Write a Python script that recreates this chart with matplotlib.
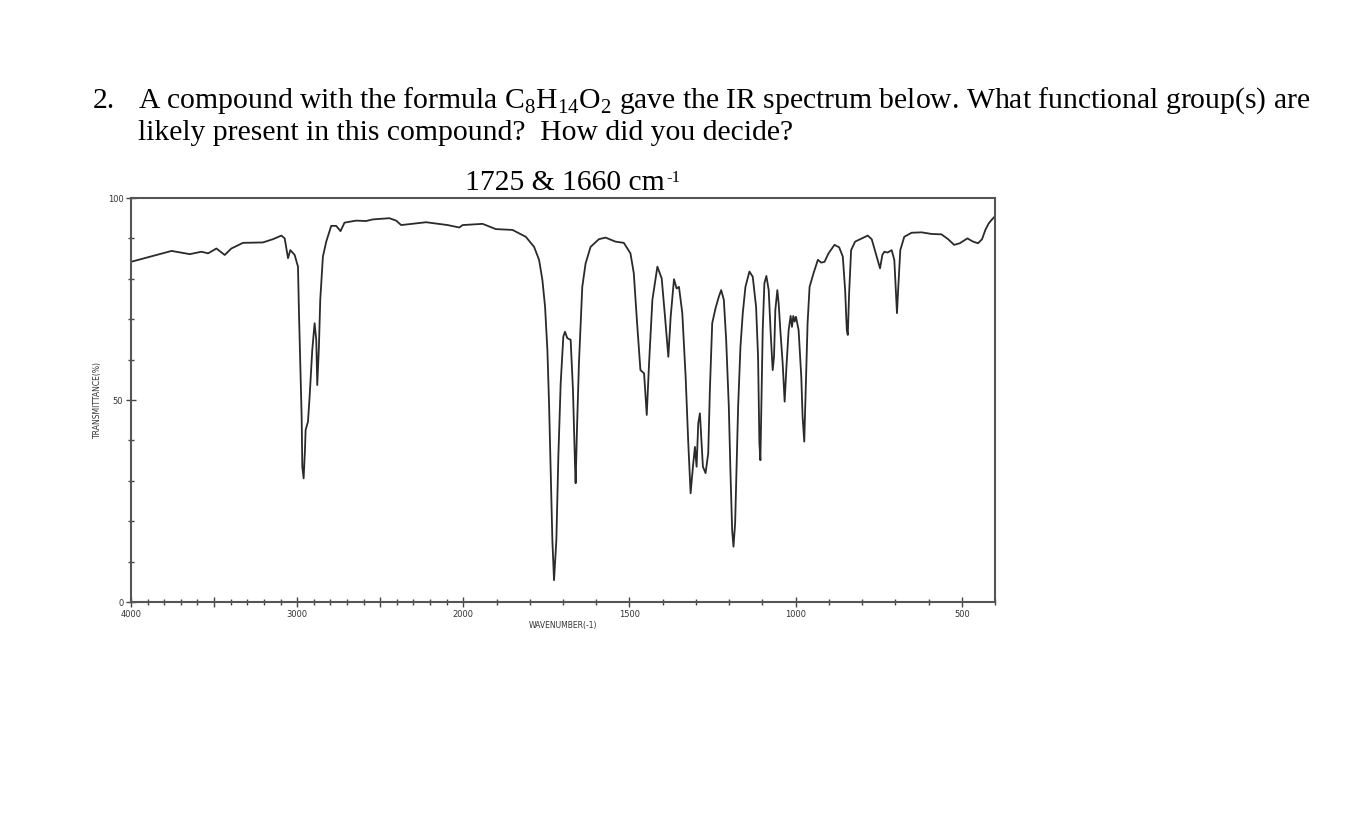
import numpy as np
import matplotlib
matplotlib.use('Agg')
from matplotlib import pyplot as plt
from matplotlib.ticker import FixedLocator, NullFormatter

#################### Data ####################

# Wavenumbers (cm-1)
wavenumber = [
    4000, 3846, 3756, 3646, 3576, 3536, 3486, 3436, 3396, 3326,
    3206, 3146, 3095, 3075, 3055, 3041, 3015, 2995, 2989, 2981,
    2973, 2969, 2961, 2953, 2949, 2935, 2925, 2909, 2895, 2885,
    2879, 2869, 2861, 2845, 2825, 2795, 2765, 2739, 2715, 2645,
    2585, 2545, 2445, 2404, 2374, 2224, 2094, 2024, 2004, 1942,
    1902, 1852, 1812, 1787, 1772, 1762, 1754, 1747, 1742, 1737,
    1732, 1727, 1720, 1714, 1707, 1699, 1694, 1687, 1677, 1670,
    1664, 1662, 1658, 1652, 1642, 1632, 1617, 1592, 1572, 1542,
    1517, 1497, 1487, 1477, 1467, 1456, 1448, 1441, 1431, 1416,
    1403, 1393, 1383, 1376, 1366, 1358, 1351, 1341, 1331, 1323,
    1316, 1309, 1303, 1298, 1293, 1288, 1283, 1279, 1271, 1263,
    1258, 1251, 1241, 1231, 1224, 1216, 1209, 1201, 1196, 1191,
    1187, 1182, 1178, 1173, 1166, 1159, 1151, 1139, 1129, 1119,
    1113, 1109, 1106, 1103, 1099, 1094, 1088, 1081, 1075, 1069,
    1065, 1061, 1055, 1051, 1046, 1039, 1033, 1027, 1021, 1015,
    1011, 1007, 1003, 999, 991, 983, 979, 974, 969, 964,
    958, 946, 933, 923, 913, 901, 883, 869, 858, 851,
    846, 843, 839, 833, 821, 801, 783, 771, 759, 746,
    739, 733, 723, 711, 703, 699, 695, 691, 685, 673,
    651, 621, 591, 561, 541, 523, 506, 483, 466, 451,
    439, 429, 419, 409, 400,
]

# Transmittance (%)
transmittance = [
    84.2, 85.9, 86.9, 86.1, 86.7, 86.3, 87.5, 85.9, 87.5, 88.9,
    89.0, 89.8, 90.7, 90.0, 85.1, 87.1, 85.9, 83.0, 71.5, 59.2,
    45.9, 33.5, 30.6, 37.6, 42.6, 44.6, 50.8, 62.4, 69.0, 64.9,
    53.7, 63.2, 74.8, 85.5, 89.2, 93.1, 93.1, 91.8, 93.9, 94.4,
    94.3, 94.7, 95.0, 94.4, 93.3, 94.0, 93.3, 92.7, 93.3, 93.6,
    92.3, 92.1, 90.4, 87.9, 84.7, 79.7, 73.1, 62.4, 49.2, 31.9,
    15.3, 5.4, 15.3, 36.0, 54.1, 65.7, 66.9, 65.3, 64.9, 52.5,
    34.3, 29.4, 42.6, 59.1, 78.0, 83.8, 87.9, 89.8, 90.2, 89.2,
    88.9, 86.3, 81.4, 69.0, 57.4, 56.6, 46.3, 59.1, 74.8, 83.0,
    80.1, 70.6, 60.7, 70.6, 79.9, 77.6, 78.0, 71.5, 55.8, 39.3,
    26.9, 33.5, 38.4, 33.5, 44.2, 46.7, 39.3, 33.5, 31.9, 36.8,
    52.5, 69.0, 72.7, 75.6, 77.2, 74.8, 64.9, 48.3, 31.9, 17.8,
    13.7, 19.5, 31.9, 48.3, 63.2, 71.5, 78.0, 81.8, 80.5, 73.1,
    60.7, 39.3, 35.1, 48.3, 67.3, 78.9, 80.7, 77.2, 66.5, 57.4,
    60.7, 72.3, 77.2, 73.9, 67.3, 59.1, 49.6, 59.1, 67.3, 70.8,
    68.1, 70.8, 69.4, 70.6, 67.3, 55.8, 45.9, 39.7, 54.1, 69.0,
    78.0, 81.4, 84.7, 84.0, 84.2, 86.3, 88.4, 87.8, 85.5, 77.2,
    67.3, 66.1, 76.4, 87.1, 89.2, 90.0, 90.7, 89.8, 86.3, 82.6,
    85.9, 86.7, 86.5, 87.1, 84.7, 78.0, 71.5, 78.0, 87.1, 90.4,
    91.4, 91.5, 91.1, 91.0, 89.8, 88.4, 88.8, 90.0, 89.2, 88.8,
    89.8, 92.1, 93.7, 94.7, 95.5,
]

x_major = [4000, 3500, 3000, 2500, 2000, 1500, 1000, 500]
x_labels = ['4000', '', '3000', '', '2000', '1500', '1000', '500']
y_major = [0, 50, 100]
y_labels = ['0', '50', '100']

question_1 = 'A compound with the formula C$_\\mathrm{8}$H$_\\mathrm{14}$O$_\\mathrm{2}$ gave the IR spectrum below. What functional group(s) are'
question_2 = 'likely present in this compound?  How did you decide?'
peak_note = '1725 & 1660 cm'
peak_unit = '-1'

#################### Styling ####################

plt.rcParams['font.family'] = ['Liberation Serif', 'DejaVu Serif']
plt.rcParams['mathtext.fontset'] = 'custom'
plt.rcParams['mathtext.rm'] = 'Liberation Serif'

# Two-scale wavenumber axis: 4000-2000 is compressed by a factor of two
def fwd(w):
    w = np.asarray(w, dtype=float)
    return np.where(w >= 2000, 2000 + (w - 2000) / 2, w)

def inv(u):
    u = np.asarray(u, dtype=float)
    return np.where(u >= 2000, 2000 + (u - 2000) * 2, u)

fig = plt.figure(figsize=(13.54, 8.23), dpi=100)
ax = fig.add_axes([131 / 1354, 1 - 602 / 823, 864 / 1354, 404 / 823])

ax.plot(wavenumber, transmittance, color='#2a2a2a', lw=1.3)

ax.set_xscale('function', functions=(fwd, inv))
ax.set_xlim(4000, 400)
ax.set_ylim(0, 100)

ax.xaxis.set_major_locator(FixedLocator(x_major))
ax.xaxis.set_minor_locator(FixedLocator(list(range(400, 4001, 100))))
ax.xaxis.set_minor_formatter(NullFormatter())
ax.set_xticklabels(x_labels)
ax.yaxis.set_major_locator(FixedLocator(y_major))
ax.yaxis.set_minor_locator(FixedLocator(list(range(0, 101, 10))))
ax.set_yticklabels(y_labels)

for lab in ax.get_xticklabels() + ax.get_yticklabels():
    lab.set_family('DejaVu Sans')
    lab.set_fontsize(6)
    lab.set_color('#333333')

ax.tick_params(axis='both', which='major', direction='inout', length=7, width=1, color='#444444', pad=2)
ax.tick_params(axis='both', which='minor', direction='inout', length=4, width=1, color='#444444')
for sp in ax.spines.values():
    sp.set_color('#555555')
    sp.set_linewidth(1.5)

ax.set_xlabel('WAVENUMBER(-1)', family='DejaVu Sans', fontsize=5.5, color='#333333', labelpad=2)
ax.set_ylabel('TRANSMITTANCE(%)', family='DejaVu Sans', fontsize=5.5, color='#333333', labelpad=4)

#################### Text ####################

fs = 21.3
fig.text(93 / 1354, 1 - 108 / 823, '2.', fontsize=fs, va='baseline')
fig.text(138 / 1354, 1 - 108 / 823, question_1, fontsize=fs, va='baseline')
fig.text(138 / 1354, 1 - 140 / 823, question_2, fontsize=fs, va='baseline')
note = fig.text(465 / 1354, 1 - 190 / 823, peak_note, fontsize=fs, va='baseline')
plt.annotate(peak_unit, xy=(1.0, 0.0), xycoords=note, xytext=(1, 10),
             textcoords='offset points', fontsize=12, va='baseline')

fig.savefig('out.png', dpi=100)
